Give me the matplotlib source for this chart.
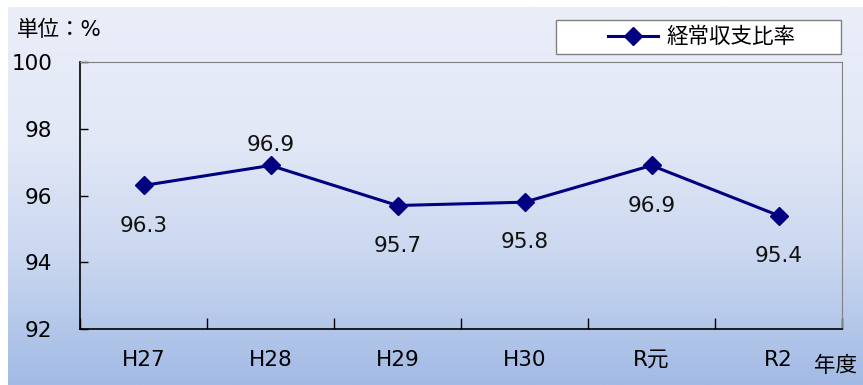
import numpy as np
import matplotlib
matplotlib.use("Agg")
import matplotlib.pyplot as plt
from matplotlib.colors import LinearSegmentedColormap
from matplotlib.patches import Rectangle

plt.rcParams['font.family'] = ['DejaVu Sans', 'Noto Sans CJK JP']

categories = ["H27", "H28", "H29", "H30", "R元", "R2"]
values = [96.3, 96.9, 95.7, 95.8, 96.9, 95.4]
label_above = [False, True, False, False, False, False]
yticks = [92, 94, 96, 98, 100]
series_name = "経常収支比率"

W, H = 863, 385
fig = plt.figure(figsize=(W / 100, H / 100), dpi=100, facecolor="white")

# gradient background
bg = fig.add_axes([8 / W, 0, 1 - 8 / W, 1 - 7 / H], zorder=-10)
cmap = LinearSegmentedColormap.from_list(
    "bg", [(0.0, "#EAEEF9"), (0.35, "#E2E8F6"), (0.65, "#CBD8F0"), (1.0, "#A2BAE5")])
grad = np.linspace(0, 1, 256).reshape(-1, 1)
bg.imshow(grad, aspect="auto", cmap=cmap, extent=[0, 1, 1, 0])
bg.set_axis_off()

FS = 15.5

ax = fig.add_axes([80 / W, (H - 329) / H, (842 - 80) / W, (329 - 62) / H])
ax.patch.set_alpha(0)
x = np.arange(len(categories))
line, = ax.plot(x, values, color="#000080", lw=2.2, marker="D", markersize=9,
                label=series_name, zorder=3)

for xi, v, above in zip(x, values, label_above):
    off = 15 if above else -29
    ax.annotate(f"{v:.1f}", (xi, v), xytext=(0, off), textcoords="offset points",
                ha="center", va="center", fontsize=FS, color="#111111")

ax.set_xlim(-0.5, len(categories) - 0.5)
ax.set_ylim(92, 100)
ax.set_yticks(yticks)
ax.set_xticks(x)
ax.set_xticklabels(categories)
ax.set_xticks(np.arange(len(categories) + 1) - 0.5, minor=True)
ax.tick_params(axis="x", which="major", length=0, pad=15, labelsize=FS)
ax.tick_params(axis="x", which="minor", direction="in", length=8, width=1)
ax.tick_params(axis="y", direction="in", length=6, width=1, pad=20, labelsize=FS)
for lab in ax.get_yticklabels():
    lab.set_horizontalalignment("right")

ax.spines["left"].set_color("black")
ax.spines["bottom"].set_color("black")
ax.spines["left"].set_linewidth(1.2)
ax.spines["bottom"].set_linewidth(1.2)
ax.spines["top"].set_color("#808080")
ax.spines["right"].set_color("#808080")

fig.text(17 / W, 1 - 30 / H, "単位：%", fontsize=FS, va="center", ha="left")
fig.text(857 / W, 1 - 366 / H, "年度", fontsize=FS, va="center", ha="right")

# legend box
fig.patches.append(Rectangle((556 / W, 1 - 54 / H), (841 - 556) / W, 34 / H,
                             transform=fig.transFigure, facecolor="white",
                             edgecolor="#808080", lw=1, zorder=1))
leg = fig.legend(handles=[line], loc="center left", bbox_to_anchor=(608 / W, 1 - 37 / H),
                 frameon=False, fontsize=FS, handlelength=2.3, handletextpad=0.4,
                 borderpad=0, borderaxespad=0)
leg.set_zorder(2)

fig.savefig("out.png", dpi=100, facecolor="white")
